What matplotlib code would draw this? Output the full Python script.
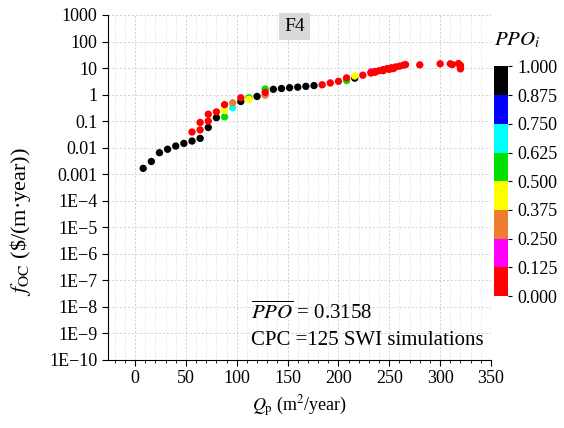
import numpy as np
import matplotlib
matplotlib.use("Agg")
import matplotlib.pyplot as plt
from matplotlib.colors import ListedColormap, BoundaryNorm
from matplotlib.ticker import MultipleLocator, FixedLocator, FuncFormatter

plt.rcParams['font.family'] = 'Liberation Serif'
plt.rcParams['mathtext.fontset'] = 'stix'

# Qp (m2/year), log10 of f_OC, PPO_i per simulation
qp = [8, 16, 24, 32, 40, 48, 56, 64, 72, 80, 104, 120, 136, 144, 152, 160, 168, 176, 216,
      96, 88, 112, 128, 208, 88, 112, 216, 96, 128, 232,
      56, 64, 64, 72, 72, 80, 88, 104, 128, 184, 192, 200, 208, 224, 232, 236, 240,
      244, 248, 252, 256, 260, 264, 266, 280, 300, 310, 312, 318, 320, 320, 320,
      236, 244, 250, 254]
log_foc = [-2.78, -2.52, -2.19, -2.06, -1.94, -1.84, -1.75, -1.65, -1.24, -0.87, -0.26, -0.07,
           0.20, 0.23, 0.26, 0.28, 0.31, 0.34, 0.62,
           -0.50, -0.84, -0.12, 0.21, 0.53, -0.60, -0.18, 0.70, -0.31, -0.02, 0.86,
           -1.41, -1.33, -1.05, -1.00, -0.74, -0.65, -0.38, -0.12, 0.08, 0.37, 0.44, 0.50,
           0.63, 0.73, 0.81, 0.87, 0.90, 0.94, 0.98, 1.01, 1.04, 1.07, 1.11, 1.13, 1.12,
           1.16, 1.16, 1.13, 1.17, 1.10, 1.03, 0.97, 0.84, 0.90, 0.95, 0.98]
ppo = [1.0] * 19 + [0.69, 0.56, 0.56, 0.56, 0.56, 0.44, 0.44, 0.44, 0.31, 0.31, 0.19] + [0.05] * 36

ytick_labels = ['1E\u221210', '1E\u22129', '1E\u22128', '1E\u22127', '1E\u22126', '1E\u22125',
                '1E\u22124', '0.001', '0.01', '0.1', '1', '10', '100', '1000']
bin_colors = ['#ff0000', '#ff00ff', '#ed7d31', '#ffff00', '#00e000', '#00ffff', '#0000ff', '#000000']

qp = np.array(qp)
foc = 10.0 ** np.array(log_foc)
ppo = np.array(ppo)
# low PPO drawn last, on top
order = np.argsort(-ppo, kind='stable')

cmap = ListedColormap(bin_colors)
bounds = np.linspace(0, 1, 9)
norm = BoundaryNorm(bounds, cmap.N)

fig = plt.figure(figsize=(5.64, 4.28), dpi=100)
ax = fig.add_axes([0.1915, 0.159, 0.679, 0.806])

sc = ax.scatter(qp[order], foc[order], c=ppo[order], cmap=cmap, norm=norm, s=28,
                edgecolors='none', zorder=3)

ax.set_yscale('log')
ax.set_ylim(1e-10, 1000)
ax.set_xlim(-26.6, 350)
ax.yaxis.set_major_locator(FixedLocator([10.0 ** k for k in range(-10, 4)]))
ax.yaxis.set_major_formatter(FuncFormatter(lambda v, p: ytick_labels[int(round(np.log10(v))) + 10]))
ax.xaxis.set_major_locator(MultipleLocator(50))
ax.xaxis.set_minor_locator(MultipleLocator(10))

ax.grid(True, which='major', color='#d0d0d0', linestyle=(0, (2, 2)), linewidth=0.7, zorder=0)
ax.grid(True, which='minor', color='#e2e2e2', linestyle=(0, (2, 2)), linewidth=0.6, zorder=0)
ax.set_axisbelow(True)
for s in ['top', 'right']:
    ax.spines[s].set_visible(False)
ax.tick_params(labelsize=13, direction='out', length=4)
ax.tick_params(which='minor', length=2)
ax.tick_params(axis='y', which='minor', direction='in', length=3)

ax.set_xlabel('$Q_{\\rm p}$ (m$^2$/year)', fontsize=13)
ax.set_ylabel('$f_{\\rm OC}$ (\\$/(m\u00b7year))', fontsize=16)
ax.yaxis.set_label_coords(-0.195, 0.40)

ax.text(0.487, 0.966, 'F4', transform=ax.transAxes, ha='center', va='center', fontsize=14,
        bbox=dict(facecolor='#d9d9d9', edgecolor='none', pad=3.5))
ax.text(0.374, 0.136, '$\\overline{PPO}$ = 0.3158', transform=ax.transAxes, ha='left',
        va='center', fontsize=15)
ax.text(0.374, 0.057, 'CPC =125 SWI simulations', transform=ax.transAxes, ha='left',
        va='center', fontsize=15)

cax = fig.add_axes([0.876, 0.308, 0.025, 0.537])
cb = fig.colorbar(sc, cax=cax, boundaries=bounds, ticks=bounds)
cb.outline.set_visible(False)
cb.ax.set_yticklabels(['%.3f' % b for b in bounds])
cb.ax.tick_params(labelsize=13, length=3)
fig.text(0.875, 0.905, '$PPO_i$', fontsize=15, ha='left', va='center')

fig.savefig('out.png', dpi=100)
